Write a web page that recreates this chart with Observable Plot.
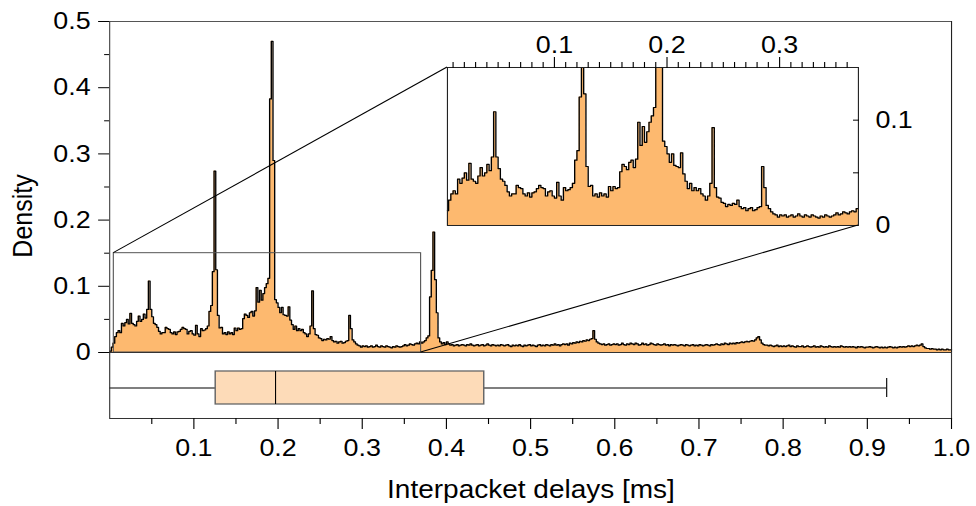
<!DOCTYPE html>
<html>
<head>
<meta charset="utf-8">
<script src="https://cdn.jsdelivr.net/npm/d3@7"></script>
<script src="https://cdn.jsdelivr.net/npm/@observablehq/plot@0.6"></script>
<style>
  body { margin: 0; background: #fff; }
  #wrap { position: relative; height: 506px; transform-origin: 0 0; }
  #wrap > svg { position: absolute; }
</style>
</head>
<body>
<div id="wrap"></div>
<script>
// ---------------- data ----------------
const binWidth = 0.002; // ms, histogram bins from 0 to 1.0
const density = [
  0.002,0.008,0.014,0.024,0.030,0.033,0.030,0.044,0.040,0.045,
  0.050,0.043,0.059,0.044,0.042,0.040,0.047,0.055,0.047,0.050,
  0.058,0.052,0.065,0.108,0.065,0.054,0.044,0.042,0.038,0.032,
  0.028,0.030,0.030,0.038,0.036,0.035,0.030,0.028,0.031,0.027,
  0.031,0.032,0.035,0.038,0.036,0.035,0.028,0.032,0.033,0.028,
  0.026,0.041,0.028,0.024,0.036,0.033,0.034,0.036,0.040,0.062,
  0.071,0.122,0.274,0.125,0.056,0.037,0.038,0.028,0.030,0.027,
  0.031,0.028,0.030,0.027,0.037,0.033,0.037,0.035,0.036,0.051,
  0.058,0.056,0.053,0.060,0.062,0.055,0.063,0.098,0.076,0.094,
  0.079,0.089,0.098,0.104,0.112,0.383,0.470,0.290,0.080,0.075,
  0.068,0.060,0.068,0.057,0.056,0.055,0.069,0.049,0.042,0.035,
  0.040,0.033,0.036,0.033,0.035,0.030,0.028,0.024,0.028,0.040,
  0.093,0.036,0.027,0.026,0.022,0.021,0.018,0.020,0.019,0.021,
  0.020,0.024,0.018,0.016,0.017,0.014,0.016,0.017,0.014,0.015,
  0.017,0.018,0.056,0.036,0.019,0.016,0.013,0.011,0.010,0.008,
  0.010,0.009,0.010,0.008,0.009,0.010,0.008,0.009,0.011,0.009,
  0.008,0.010,0.009,0.008,0.010,0.009,0.008,0.007,0.009,0.008,
  0.010,0.009,0.008,0.009,0.010,0.012,0.010,0.011,0.013,0.012,
  0.011,0.013,0.014,0.013,0.016,0.014,0.016,0.018,0.022,0.025,
  0.084,0.124,0.182,0.110,0.060,0.022,0.016,0.013,0.015,0.012,
  0.016,0.013,0.011,0.012,0.010,0.011,0.012,0.010,0.011,0.012,
  0.011,0.010,0.012,0.011,0.013,0.011,0.010,0.011,0.012,0.010,
  0.011,0.012,0.010,0.011,0.013,0.011,0.010,0.012,0.011,0.010,
  0.011,0.010,0.012,0.011,0.010,0.011,0.012,0.010,0.009,0.011,
  0.010,0.011,0.010,0.012,0.010,0.009,0.011,0.010,0.011,0.012,
  0.010,0.011,0.010,0.009,0.011,0.012,0.010,0.011,0.010,0.012,
  0.011,0.010,0.012,0.011,0.013,0.011,0.012,0.010,0.012,0.013,
  0.012,0.013,0.011,0.014,0.013,0.015,0.014,0.016,0.015,0.017,
  0.016,0.018,0.017,0.019,0.018,0.020,0.021,0.033,0.020,0.016,
  0.014,0.013,0.012,0.013,0.011,0.012,0.013,0.011,0.012,0.013,
  0.012,0.013,0.011,0.012,0.014,0.012,0.011,0.013,0.012,0.014,
  0.013,0.012,0.014,0.013,0.011,0.012,0.014,0.012,0.013,0.011,
  0.012,0.014,0.013,0.012,0.011,0.013,0.012,0.011,0.012,0.013,
  0.011,0.012,0.010,0.012,0.011,0.012,0.011,0.010,0.011,0.012,
  0.011,0.010,0.012,0.011,0.010,0.011,0.012,0.010,0.011,0.010,
  0.012,0.011,0.010,0.011,0.012,0.011,0.010,0.012,0.011,0.012,
  0.013,0.012,0.011,0.013,0.012,0.014,0.013,0.012,0.014,0.013,
  0.014,0.013,0.015,0.014,0.015,0.016,0.015,0.016,0.017,0.016,
  0.017,0.018,0.017,0.019,0.022,0.024,0.019,0.014,0.012,0.011,
  0.011,0.010,0.011,0.010,0.009,0.010,0.011,0.009,0.010,0.009,
  0.010,0.009,0.010,0.011,0.009,0.010,0.009,0.008,0.010,0.009,
  0.009,0.010,0.008,0.009,0.010,0.009,0.008,0.009,0.010,0.008,
  0.009,0.008,0.010,0.009,0.008,0.009,0.008,0.010,0.009,0.008,
  0.009,0.008,0.009,0.008,0.010,0.009,0.008,0.009,0.008,0.009,
  0.008,0.009,0.008,0.007,0.009,0.008,0.009,0.008,0.007,0.008,
  0.008,0.009,0.008,0.007,0.008,0.009,0.008,0.007,0.008,0.007,
  0.008,0.007,0.008,0.009,0.008,0.007,0.008,0.007,0.008,0.009,
  0.008,0.009,0.008,0.009,0.010,0.009,0.010,0.009,0.010,0.011,
  0.010,0.011,0.013,0.009,0.007,0.006,0.006,0.005,0.006,0.005,
  0.005,0.004,0.005,0.004,0.005,0.004,0.004,0.005,0.004,0.004
];

// box plot summary of the same delays (ms)
const boxLabel = ["Interpacket delays"];
const boxLow = [0.0];
const boxQ1 = [0.126];
const boxMedian = [0.197];
const boxQ3 = [0.445];
const boxHigh = [0.923];

// main axes
const xTicks = [0.1, 0.2, 0.3, 0.4, 0.5, 0.6, 0.7, 0.8, 0.9, 1.0];
const xMinorTicks = [0.05, 0.15, 0.25, 0.35, 0.45, 0.55, 0.65, 0.75, 0.85, 0.95];
const yTicks = [0, 0.1, 0.2, 0.3, 0.4, 0.5];
const yMinorTicks = [0.05, 0.15, 0.25, 0.35, 0.45];

// inset (zoom) region and axes
const insetXDomain = [0.005, 0.37];
const insetYDomain = [0, 0.15];
const insetXTicks = [0.1, 0.2, 0.3];
const insetXMinorTicks = [0.01,0.02,0.03,0.04,0.05,0.06,0.07,0.08,0.09,
  0.11,0.12,0.13,0.14,0.15,0.16,0.17,0.18,0.19,
  0.21,0.22,0.23,0.24,0.25,0.26,0.27,0.28,0.29,
  0.31,0.32,0.33,0.34,0.35,0.36];
const insetYTicks = [0, 0.1];
const insetYInwardTicks = [0.05, 0.1];

const xTitle = "Interpacket delays [ms]";
const yTitle = "Density";

// ---------------- layout ----------------
const FONT = "'Liberation Sans', Arial, Helvetica, sans-serif";
const S = 1.12;                 // horizontal stretch of the whole figure
const W = 976 / S;
const ML = 109.1 / S, MR = (976 - 951) / S;
const HIST_FILL = "#fdb96f", BOX_FILL = "#fddbb8";
const baseStyle = {background: "none", overflow: "visible", fontFamily: FONT, color: "#000"};
const fmt = d3.format("~g");

const wrap = document.getElementById("wrap");
wrap.style.width = W + "px";
wrap.style.transform = `scaleX(${S})`;

function stepPoints(vals, x0, x1, yMax) {
  const pts = [];
  vals.forEach((v, i) => {
    let a = i * binWidth, b = (i + 1) * binWidth;
    if (b <= x0 || a >= x1) return;
    a = Math.max(a, x0); b = Math.min(b, x1);
    const y = Math.min(v, yMax);
    pts.push({x: a, y}, {x: b, y});
  });
  return pts;
}

const mainSteps = [{x: 0, y: 0}, ...stepPoints(density, 0, 1, Infinity)];
const zoomRegion = [{x1: insetXDomain[0], x2: insetXDomain[1], y1: insetYDomain[0], y2: insetYDomain[1]}];

const main = Plot.plot({
  width: W, height: 352,
  marginLeft: ML, marginRight: MR, marginTop: 21, marginBottom: 0,
  x: {domain: [0, 1], axis: null},
  y: {domain: [0, 0.5]},
  style: baseStyle,
  marks: [
    Plot.area(mainSteps, {x1: "x", y1: 0, y2: "y", fill: HIST_FILL}),
    Plot.line(mainSteps, {x: "x", y: "y", stroke: "#000", strokeWidth: 1.2}),
    Plot.rect(zoomRegion, {x1: "x1", x2: "x2", y1: "y1", y2: "y2", fill: "none", stroke: "#555"}),
    Plot.ruleY([0.5], {stroke: "#555"}),
    Plot.ruleX([1], {stroke: "#222"}),
    Plot.ruleX([0], {stroke: "#444"}),
    Plot.ruleY([0], {stroke: "#000"}),
    Plot.axisY(yTicks, {tickSize: 11 / S, tickPadding: 8 / S, tickFormat: fmt, label: null, fontSize: 24}),
    Plot.axisY(yMinorTicks, {tickSize: 5 / S, tickFormat: () => "", label: null})
  ]
});
main.style.left = "0px"; main.style.top = "0px";
wrap.appendChild(main);

const boxData = boxLabel.map((key, i) => ({
  key, lo: boxLow[i], q1: boxQ1[i], median: boxMedian[i], q3: boxQ3[i], hi: boxHigh[i]
}));

const box = Plot.plot({
  width: W, height: 154,
  marginLeft: ML, marginRight: MR, marginTop: 0, marginBottom: 88,
  x: {domain: [0, 1]},
  y: {domain: boxLabel, axis: null, padding: 1 / 3, range: [2.5, 68.5]},
  style: baseStyle,
  marks: [
    Plot.ruleY(boxData, {y: "key", x1: "lo", x2: "hi", stroke: "#000"}),
    Plot.barX(boxData, {y: "key", x1: "q1", x2: "q3", fill: BOX_FILL, stroke: "#666", strokeWidth: 1.3}),
    Plot.tickX(boxData, {y: "key", x: "median", stroke: "#000"}),
    Plot.tickX(boxData, {y: "key", x: "hi", stroke: "#000", insetTop: 7, insetBottom: 7}),
    Plot.frame({stroke: "#333"}),
    Plot.axisX(xTicks, {tickSize: 11, tickPadding: 9, tickFormat: d3.format(".1f"), label: null, fontSize: 24}),
    Plot.axisX(xMinorTicks, {tickSize: 6, tickFormat: () => "", label: null})
  ]
});
box.style.left = "0px"; box.style.top = "352px";
wrap.appendChild(box);

const insetSteps = stepPoints(density, insetXDomain[0], insetXDomain[1], insetYDomain[1]);
const IL = 5, IR = 60, IT = 60, IB = 12;
const IW = 411 / S, IH = 158;
const inset = Plot.plot({
  width: IL + IW + IR, height: IT + IH + IB,
  marginLeft: IL, marginRight: IR, marginTop: IT, marginBottom: IB,
  x: {domain: insetXDomain},
  y: {domain: insetYDomain},
  style: baseStyle,
  marks: [
    Plot.area(insetSteps, {x1: "x", y1: 0, y2: "y", fill: HIST_FILL}),
    Plot.line(insetSteps, {x: "x", y: "y", stroke: "#000", strokeWidth: 1.2}),
    Plot.frame({stroke: "#222"}),
    Plot.axisX(insetXTicks, {anchor: "top", tickSize: 11, tickPadding: 3, tickFormat: fmt, label: null, fontSize: 24}),
    Plot.axisX(insetXMinorTicks, {anchor: "top", tickSize: 6, tickFormat: () => "", label: null}),
    Plot.axisY(insetYTicks, {anchor: "right", tickSize: 0, tickPadding: 17 / S, tickFormat: fmt, label: null, fontSize: 24}),
    Plot.axisY(insetYInwardTicks, {anchor: "right", tickSize: 6 / S, dx: -6 / S, tickFormat: () => "", label: null})
  ]
});
const OX = 447 / S - IL, OY = 67 - IT;
inset.style.left = OX + "px"; inset.style.top = OY + "px";
wrap.appendChild(inset);

// overlay: connector lines and axis titles
const mx = main.scale("x"), my = main.scale("y");
const ix = inset.scale("x"), iy = inset.scale("y");
const ov = d3.create("svg")
  .attr("width", W).attr("height", 506)
  .style("left", "0px").style("top", "0px").style("overflow", "visible")
  .style("font-family", FONT);
const links = [[insetXDomain[0], insetYDomain[1]], [insetXDomain[1], insetYDomain[0]]];
for (const [x, y] of links) {
  ov.append("line")
    .attr("x1", mx.apply(x)).attr("y1", my.apply(y))
    .attr("x2", OX + ix.apply(x)).attr("y2", OY + iy.apply(y))
    .attr("stroke", "#000").attr("stroke-width", 1);
}
ov.append("text")
  .attr("transform", `translate(${32 / S},216) rotate(-90)`)
  .attr("text-anchor", "middle").attr("font-size", 25).attr("fill", "#000")
  .text(yTitle);
ov.append("text")
  .attr("x", 531 / S).attr("y", 498)
  .attr("text-anchor", "middle").attr("font-size", 25).attr("fill", "#000")
  .text(xTitle);
wrap.appendChild(ov.node());
</script>
</body>
</html>
